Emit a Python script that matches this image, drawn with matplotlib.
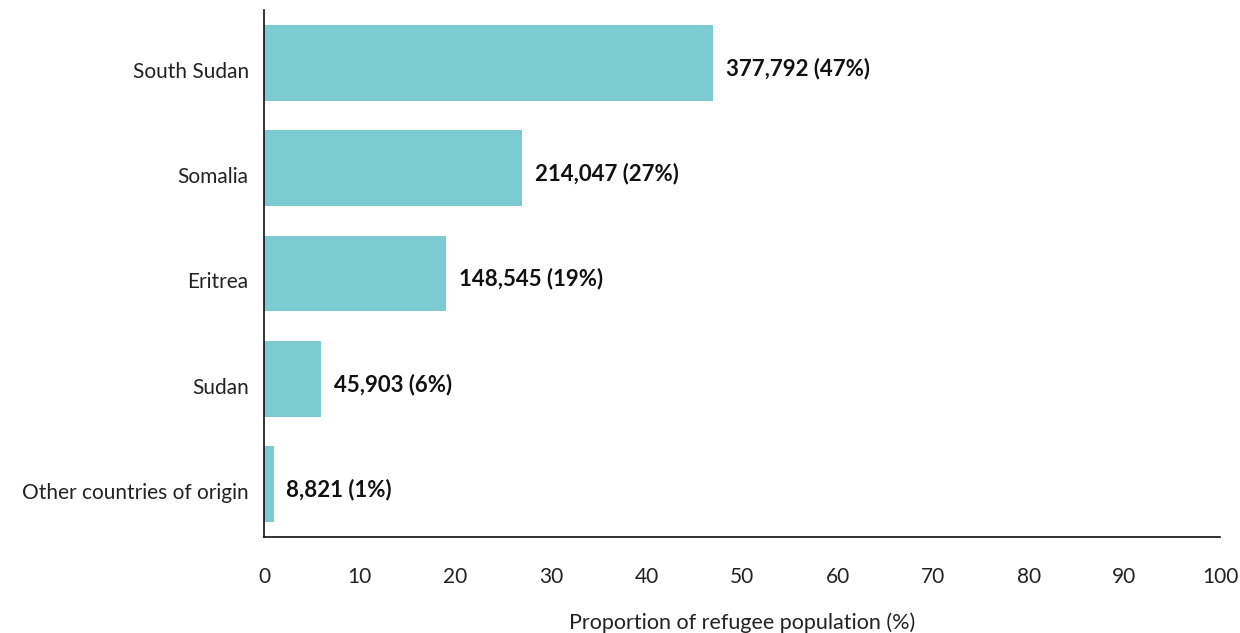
import matplotlib.pyplot as plt
import matplotlib.transforms as mtransforms

plt.rcParams['font.family'] = ['Lato', 'DejaVu Sans']

countries = ['South Sudan', 'Somalia', 'Eritrea', 'Sudan', 'Other countries of origin']
refugees = [377792, 214047, 148545, 45903, 8821]
percent = [47, 27, 19, 6, 1]

bar_color = '#7ccad2'

fig = plt.figure(figsize=(12.4, 6.33), dpi=100)
ax = fig.add_axes([0.2129, 0.152, 0.7710, 0.832])

ypos = list(range(len(countries)))
ax.barh(ypos, percent, height=0.72, color=bar_color)

for y, n, p in zip(ypos, refugees, percent):
    ax.text(p + 1.35, y + 0.05, f'{n:,} ({p}%)', va='center', ha='left',
            fontsize=16, fontweight='bold', color='#111111')

ax.set_yticks(ypos)
ax.set_yticklabels(countries)
ax.set_ylim(len(countries) - 0.5, -0.5)
ax.set_xlim(0, 100)
ax.set_xticks(range(0, 101, 10))
ax.set_xlabel('Proportion of refugee population (%)', fontsize=15.5, labelpad=18, color='#222222')

ax.tick_params(axis='both', length=0, labelsize=15, colors='#222222')
ax.tick_params(axis='x', pad=22)
ax.tick_params(axis='y', pad=11)

shift = mtransforms.ScaledTranslation(0, -7 / 100, fig.dpi_scale_trans)
for lbl in ax.get_yticklabels():
    lbl.set_transform(lbl.get_transform() + shift)

for side in ['top', 'right']:
    ax.spines[side].set_visible(False)
for side in ['left', 'bottom']:
    ax.spines[side].set_color('#111111')
    ax.spines[side].set_linewidth(1.2)

fig.savefig('out.png', dpi=100)
